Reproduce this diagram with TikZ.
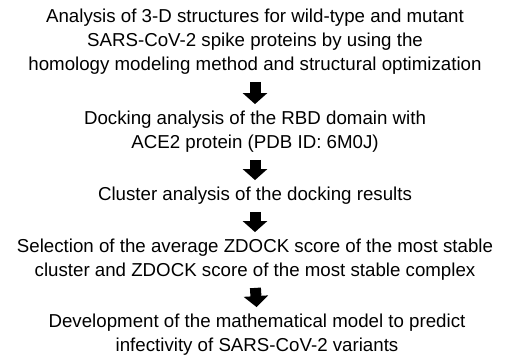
\documentclass[tikz,border=0pt]{standalone}
\usepackage{fontspec}
\setmainfont{Liberation Sans}
\usetikzlibrary{arrows.meta}

\begin{document}
\begin{tikzpicture}[x=1pt,y=-1pt,
    steptext/.style={align=center, inner sep=0pt, font=\fontsize{18.7}{24}\selectfont},
    flowarrow/.style={line width=11pt, shorten <=7pt, shorten >=7pt, -{Triangle[width=24pt,length=11pt]}}]
    \useasboundingbox (0,0) rectangle (507,356);

    % Steps of the workflow
    \node[steptext] (struct) at (255,42) {Analysis of 3-D structures for wild-type and mutant\\SARS-CoV-2 spike proteins by using the\\homology modeling method and structural optimization};
    \node[steptext] (dock) at (255,132) {Docking analysis of the RBD domain with\\ACE2 protein (PDB ID: 6M0J)};
    \node[steptext] (clust) at (255,196) {Cluster analysis of the docking results};
    \node[steptext] (zdock) at (255,260) {Selection of the average ZDOCK score of the most stable\\cluster and ZDOCK score of the most stable complex};
    \node[steptext] (model) at (257,335) {Development of the mathematical model to predict\\infectivity of SARS-CoV-2 variants};

    % Arrows between steps
    \draw[flowarrow] (struct.south) -- (dock.north);
    \draw[flowarrow] (dock.south) -- (clust.north);
    \draw[flowarrow] (clust.south) -- (zdock.north);
    \draw[flowarrow] (zdock.south) -- (model.north);
\end{tikzpicture}
\end{document}
